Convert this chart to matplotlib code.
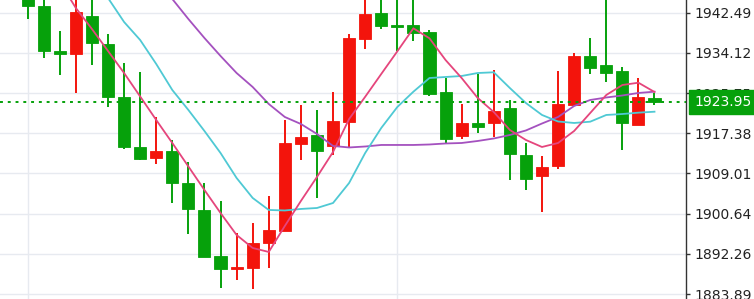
import numpy as np
import matplotlib.pyplot as plt
from matplotlib.ticker import FixedLocator

# OHLC values (40 candles)
opens = [1946.18, 1943.95, 1934.58, 1933.89, 1941.87, 1935.97, 1924.87, 1914.58, 1912.29, 1913.69,
         1907.08, 1901.40, 1891.82, 1889.04, 1889.38, 1894.46, 1897.08, 1915.08, 1917.02, 1914.79,
         1919.79, 1937.02, 1942.37, 1939.93, 1939.93, 1938.41, 1926.04, 1916.81, 1919.46, 1919.58,
         1922.58, 1912.85, 1908.48, 1910.56, 1923.27, 1933.54, 1931.60, 1930.35, 1919.10, 1924.79]
highs = [1947.64, 1945.76, 1938.68, 1945.76, 1945.76, 1938.06, 1932.08, 1930.08, 1920.83, 1915.98,
         1911.46, 1907.08, 1903.33, 1896.67, 1898.63, 1904.31, 1920.14, 1923.27, 1922.23, 1926.04,
         1938.00, 1947.22, 1947.22, 1947.22, 1946.81, 1938.89, 1928.96, 1923.41, 1929.73, 1930.56,
         1924.31, 1915.42, 1912.71, 1930.35, 1934.10, 1937.16, 1946.50, 1931.25, 1928.96, 1925.71]
lows = [1941.18, 1933.12, 1929.52, 1925.83, 1931.54, 1922.85, 1914.10, 1911.81, 1910.92, 1902.79,
        1896.40, 1891.61, 1885.09, 1886.82, 1884.88, 1889.25, 1897.02, 1911.81, 1903.83, 1912.85,
        1914.38, 1934.93, 1939.04, 1934.52, 1936.66, 1925.21, 1915.29, 1916.25, 1917.37, 1916.54,
        1907.65, 1905.56, 1900.98, 1909.87, 1923.27, 1929.73, 1927.99, 1913.90, 1919.10, 1923.27]
closes = [1943.89, 1934.52, 1933.83, 1942.58, 1936.18, 1924.93, 1914.52, 1912.02, 1913.69, 1907.08,
          1901.54, 1891.67, 1889.04, 1889.59, 1894.46, 1897.23, 1915.29, 1916.54, 1913.69, 1919.94,
          1937.16, 1942.16, 1939.79, 1939.58, 1938.20, 1925.56, 1916.12, 1919.46, 1918.75, 1922.08,
          1913.06, 1907.79, 1910.29, 1923.41, 1933.48, 1931.04, 1930.00, 1919.58, 1924.93, 1923.95]

# moving average lines as drawn
ma_fast = [1957.64, 1953.47, 1948.89, 1943.47, 1939.10, 1934.52, 1929.93, 1925.04, 1920.14, 1915.35,
           1910.46, 1905.56, 1900.77, 1896.19, 1893.48, 1892.65, 1898.06, 1903.27, 1908.27, 1913.48,
           1920.35, 1924.98, 1929.73, 1934.45, 1939.24, 1937.16, 1932.64, 1928.89, 1924.73, 1921.81,
           1918.06, 1915.98, 1914.52, 1915.35, 1917.85, 1921.60, 1925.35, 1927.43, 1927.91, 1925.98]
ma_mid = [1961.80, 1958.68, 1955.56, 1952.43, 1949.31, 1945.56, 1940.56, 1936.81, 1931.81, 1926.39,
          1922.23, 1917.85, 1913.27, 1908.06, 1903.90, 1901.40, 1901.29, 1901.61, 1901.81, 1902.85,
          1907.02, 1913.27, 1918.48, 1922.85, 1926.04, 1928.89, 1929.10, 1929.31, 1929.93, 1930.08,
          1926.81, 1923.68, 1921.19, 1919.83, 1919.52, 1919.79, 1921.19, 1921.39, 1921.67, 1921.87]
ma_slow = [1982.63, 1978.47, 1974.30, 1970.14, 1965.97, 1961.80, 1957.64, 1953.47, 1949.31, 1945.35,
           1941.18, 1937.22, 1933.48, 1929.93, 1927.02, 1923.48, 1920.77, 1919.31, 1917.23, 1914.73,
           1914.42, 1914.62, 1914.94, 1914.94, 1914.94, 1915.04, 1915.25, 1915.35, 1915.77, 1916.29,
           1917.02, 1917.96, 1919.41, 1920.77, 1923.06, 1924.31, 1924.83, 1925.25, 1925.77, 1926.04]

price_ticks = [1883.89, 1892.26, 1900.64, 1909.01, 1917.38, 1925.75, 1934.12, 1942.49]
last_price = 1923.95

GREEN = '#06a10b'
RED = '#f3140c'

fig = plt.figure(figsize=(7.54, 2.99), dpi=100)
ax = fig.add_axes([0, 0, 686 / 754, 1])

x = np.arange(len(opens))
o = np.array(opens)
c = np.array(closes)
# in this chart green candles fall, red candles rise
colors = [RED if cc > oo else GREEN for oo, cc in zip(o, c)]

ax.vlines(x, lows, highs, colors=colors, linewidth=1.4, zorder=2)
bottoms = np.minimum(o, c)
heights = np.maximum(np.abs(c - o), 0.3)
ax.bar(x, heights, bottom=bottoms, width=0.75, color=colors, edgecolor=colors,
       linewidth=0.6, zorder=3)

ax.plot(x, ma_slow, color='#a451bf', linewidth=1.3, zorder=4)
ax.plot(x, ma_mid, color='#4fc9d4', linewidth=1.3, zorder=4)
ax.plot(x, ma_fast, color='#e5457c', linewidth=1.3, zorder=4)

ax.axhline(last_price, color=GREEN, linestyle=(0, (1.5, 2.5)), linewidth=1.4, zorder=5)

ax.set_xlim(-1.72, 40.96)
ax.set_ylim(1882.85, 1945.14)

ax.yaxis.tick_right()
ax.yaxis.set_major_locator(FixedLocator(price_ticks))
ax.set_yticklabels([f'{t:.2f}' for t in price_ticks])
ax.xaxis.set_major_locator(FixedLocator([0, 23]))
ax.tick_params(axis='x', length=0, labelbottom=False)
ax.tick_params(axis='y', length=3, width=1, color='#333333', labelcolor='#222222',
               labelsize=10, pad=3)
ax.grid(True, color='#e7eaf0', linewidth=1)
ax.set_axisbelow(True)

for side in ['top', 'bottom', 'left']:
    ax.spines[side].set_visible(False)
ax.spines['right'].set_color('#333333')
ax.spines['right'].set_linewidth(1)

# current price tag
ax.annotate(f'{last_price:.2f}', xy=(1, last_price), xycoords=('axes fraction', 'data'),
            xytext=(6, 0), textcoords='offset points', va='center', ha='left',
            fontsize=10, color='white', zorder=10, annotation_clip=False,
            bbox=dict(boxstyle='square,pad=0.35', fc=GREEN, ec=GREEN))

fig.savefig('out.png', dpi=100)
